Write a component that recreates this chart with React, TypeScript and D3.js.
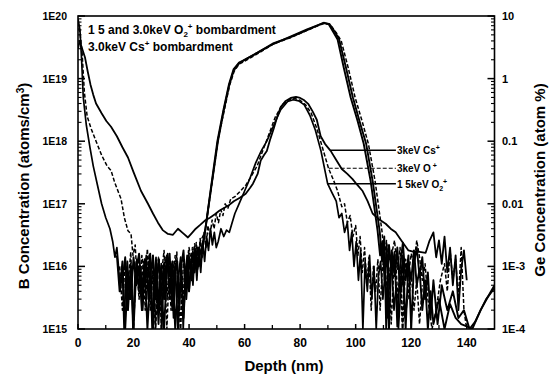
import React from 'react';
import * as d3 from 'd3';

const W = 549;
const H = 378;
const FRAME = { left: 78, right: 494.5, top: 16, bottom: 329 };
const FONT = '"Liberation Sans", Arial, Helvetica, sans-serif';

const DEPTH_DOMAIN = [0, 150];
const DEPTH_TICKS = [0, 20, 40, 60, 80, 100, 120, 140];
const DEPTH_MINOR = [10, 30, 50, 70, 90, 110, 130];
const B_DOMAIN = [1e15, 1e20];
const B_TICKS = [1e15, 1e16, 1e17, 1e18, 1e19, 1e20];
const B_TICK_LABELS = ['1E15', '1E16', '1E17', '1E18', '1E19', '1E20'];
const GE_DOMAIN = [1e-4, 10];
const GE_TICKS = [1e-4, 1e-3, 1e-2, 1e-1, 1, 10];
const GE_TICK_LABELS = ['1E-4', '1E-3', '0.01', '0.1', '1', '10'];

// Boron profiles, atoms/cm3 vs depth (nm)
const B_CS: [number, number][] = [[0,3e19],[0.6,4e19],[1.5,3e19],[2.5,2.2e19],[3.5,1.3e19],[4.5,8e18],[5.5,5.5e18],[6.5,4e18],[8.5,2.8e18],[10.2,2.1e18],[11.9,1.7e18],[14,1.2e18],[16,8e17],[18,5.5e17],[20,3.2e17],[22.7,1.6e17],[25.2,1e17],[27,7e16],[28.8,5e16],[30.5,3.8e16],[32.4,3.3e16],[34.2,3.2e16],[36,4e16],[37.8,3.4e16],[39.6,2.9e16],[41,3.4e16],[42.4,4e16],[44,4.6e16],[45.7,5.4e16],[47.5,6e16],[49.3,6.8e16],[51,7.8e16],[52.9,8.7e16],[54.5,9.6e16],[56.1,1.1e17],[58.3,1.25e17],[60.4,1.45e17],[62,1.8e17],[63,2.1e17],[64.7,3e17],[65.8,4.9e17],[67,6e17],[68,7e17],[69.3,1.1e18],[70.5,1.6e18],[71.8,2.5e18],[73,3.5e18],[74.8,4.4e18],[76.6,4.9e18],[78.5,5.1e18],[80,4.9e18],[81.5,4.5e18],[83,3.9e18],[84.5,3e18],[86,2.2e18],[87.4,1.2e18],[89,9e17],[91,7e17],[93,5e17],[95,3.6e17],[97,3e17],[98.8,2.5e17],[100.6,2e17],[102.5,1.6e17],[104.3,1.1e17],[106.1,7e16],[108.5,5.6e16],[110.8,4.8e16],[112.6,4e16],[114.4,3.5e16],[116.7,2.5e16],[119,1.8e16],[121,1.7e16],[123,1.7e16],[125.2,1.65e16],[126.5,2.5e16],[128,3.5e16],[129,1.4e16],[130,2.6e16],[131,1.1e16],[132,3e16],[133,8e15],[134,2e16],[135,5e15],[136,1.5e16],[137,2e15],[138,9e15],[139,1.8e16],[140,6e15]];

const B_O: [number, number][] = [[0,8e19],[0.8,5e19],[1.5,2.5e19],[2.3,6e18],[3.3,2.5e18],[4.7,1.6e18],[6.5,1e18],[8.5,6e17],[10.5,4e17],[11.9,3.4e17],[13.2,2.2e17],[14.4,1.6e17],[15.5,1.2e17],[16.7,6e16],[18,3.7e16],[19.1,3.3e16],[19.8,1.5e16],[20.6,2.2e16],[21.3,6e15],[22,1.5e16],[22.8,4e15],[23.5,1.2e16],[24.2,2e15],[25,9e15],[25.7,1.6e16],[26.4,3e15],[27.1,1e16],[27.8,1e15],[28.5,7e15],[29.2,1.3e16],[30,1e15],[30.7,6e15],[31.4,1.4e16],[32.1,3e15],[32.8,1e16],[33.5,2e15],[34.2,1.2e16],[34.9,5e15],[35.6,1.7e16],[36.3,1e15],[37,9e15],[37.7,1.5e15],[38.4,1.1e16],[39.1,5e15],[39.8,1.8e16],[40.5,7e15],[41.2,2e16],[41.9,9e15],[42.6,2.4e16],[43.3,1e16],[44,2.8e16],[44.7,1.4e16],[45.4,3.5e16],[46.1,2e16],[46.8,4.5e16],[47.5,3e16],[48.3,5.5e16],[49,4e16],[49.8,7e16],[50.6,5e16],[51.4,8e16],[52.2,6.5e16],[53,1e17],[54,8.5e16],[55,1.2e17],[56.5,1.3e17],[58.5,1.6e17],[60.5,2e17],[62.5,2.8e17],[64.5,4e17],[66.5,7e17],[68.5,1.2e18],[71,2.4e18],[73.5,3.8e18],[76,4.6e18],[78,4.8e18],[80,4.5e18],[82,3.8e18],[84,2.8e18],[86,1.6e18],[88,8e17],[90.3,3.6e17],[92,2.4e17],[93.5,1.6e17],[95,9e16],[96,1e17],[97,5e16],[98,6.5e16],[99,3e16],[100,4.5e16],[100.8,1.5e16],[101.6,3e16],[102.4,8e15],[103.2,2e16],[104,5e15],[104.8,1.4e16],[105.6,2e15],[106.4,1e16],[107.2,4e15],[108,1.3e16],[108.8,2e15],[109.6,9e15],[110.4,1.5e16],[111.2,4e15],[112,1e16],[112.8,1.2e15],[113.6,7e15],[114.4,1.3e16],[115.2,3e15],[116,9e15],[116.8,1e15],[117.6,6e15],[118.4,1.1e16],[119.2,3e15],[120,8e15],[121,2e15],[122,6e15],[123,1.2e15],[124,5e15]];

const B_O2: [number, number][] = [[0,9e19],[0.7,6e19],[1.3,2e19],[1.9,5e18],[3,1.8e18],[4.3,8e17],[5.5,4e17],[7,2e17],[8.5,1e17],[10,6e16],[11.5,4e16],[12.5,2.5e16],[13.3,1.4e16],[14,2e16],[14.5,1.1e16],[15.2,4e15],[16,9e15],[16.6,1e15],[17.2,6e15],[17.8,1.2e16],[18.5,3e15],[19.2,8e15],[19.8,1e15],[20.5,7e15],[21.2,1.3e16],[21.9,4e15],[22.6,1e16],[23.3,2e15],[24,8e15],[24.6,1.5e16],[25.3,3e15],[26,1e16],[26.7,1e15],[27.4,6e15],[28.1,1.4e16],[28.8,2e15],[29.5,9e15],[30.2,1e15],[30.9,1.1e16],[31.6,4e15],[32.3,1.6e16],[33,3e15],[33.7,1e16],[34.4,1.5e15],[35.1,8e15],[35.8,1.2e16],[36.5,2e15],[37.2,1e16],[37.9,1e15],[38.6,7e15],[39.3,1.5e16],[40,4e15],[40.7,1.2e16],[41.4,5e15],[42.1,1.8e16],[42.8,6e15],[43.5,2e16],[44.2,8e15],[44.9,2.5e16],[45.6,1.2e16],[46.3,3e16],[47,1.8e16],[47.7,4e16],[48.4,2.2e16],[49.1,3.5e16],[49.8,2e16],[50.5,2.5e16],[51.5,4e16],[52.5,3e16],[53.5,3.8e16],[54.5,3.5e16],[55.5,5e16],[56.5,7e16],[58,1e17],[60,1.6e17],[62,2.6e17],[64,4.5e17],[66,7e17],[68,1e18],[70.5,1.8e18],[73,3.2e18],[75.5,4.3e18],[77.5,4.6e18],[79.5,4.4e18],[81.5,3.8e18],[83.5,2.6e18],[85.5,1.5e18],[87.5,7e17],[89.9,2.1e17],[91.5,1.5e17],[93,1.1e17],[94,6e16],[95,7e16],[96,3.5e16],[97,5e16],[97.8,1.8e16],[98.6,3.5e16],[99.4,1e16],[100.2,2.5e16],[101,6e15],[101.8,1.8e16],[102.6,1e15],[103.4,1.2e16],[104.2,4e15],[105,1.5e16],[105.8,3e15],[106.6,1e16],[107.4,1e15],[108.2,7e15],[109,1.2e16],[109.8,3e15],[110.6,8e15],[111.4,1.5e15],[112.2,6e15],[113,1e16],[113.8,2e15],[114.6,5e15],[115.4,1e15],[116.2,4e15],[117,7e15],[117.8,1.5e15],[118.6,3e15]];

// Germanium profiles, atom % vs depth (nm)
const GE_CS: [number, number][] = [[16,6e-4],[17,1.4e-3],[18,2e-4],[19,1.1e-3],[20,1e-4],[21,9e-4],[22,1.6e-3],[23,4e-4],[24,1.2e-3],[25,1e-4],[26,7e-4],[27,1.5e-3],[28,3e-4],[29,1.3e-3],[30,5e-4],[31,1e-4],[32,8e-4],[33,1.6e-3],[34,2e-4],[35,1.1e-3],[36,1e-4],[37,9e-4],[38,1.8e-3],[39,3e-4],[40,1.4e-3],[41,6e-4],[42,2e-3],[43,9e-4],[44,1.6e-3],[45.5,3e-3],[47.8,1.7e-2],[50.2,0.1],[52.4,0.32],[54.4,0.82],[56,1.4],[58,1.8],[60,2.0],[65,2.65],[70.5,3.6],[76.5,4.7],[82.5,6.1],[88.3,7.7],[90.5,7.5],[92.5,5.6],[94,4.3],[96.5,1.5],[99,0.5],[101.5,0.2],[103.8,0.09],[106.2,0.022],[108.7,3.5e-3],[109.5,1.2e-3],[110.3,3e-3],[111,1e-4],[112,2.2e-3],[113,8e-4],[114,1.7e-3],[115,1.1e-4],[116,1e-3],[117,2.4e-3],[118,6e-4],[119,1.5e-3],[120,1e-4],[121,1.1e-3],[122,2e-3],[123,7e-4],[124,1.4e-3],[125,3e-4],[126,8e-4],[127,1.5e-4],[128,6e-4],[129.5,1.2e-4],[131,5e-4],[133,2e-4],[135,4e-4],[137,1.5e-4],[139,2e-4],[141,1e-4],[143,1.3e-4],[145,2e-4],[147,3e-4],[150,4.5e-4]];

const GE_O: [number, number][] = [[15,1e-3],[16,2e-4],[17,1.3e-3],[18,5e-4],[19,1.7e-3],[20,1e-4],[21,1.2e-3],[22,3e-4],[23,1.5e-3],[24,6e-4],[25,1.9e-3],[26,2e-4],[27,1.1e-3],[28,1e-4],[29,1.4e-3],[30,7e-4],[31,1.8e-3],[32,1e-4],[33,1.2e-3],[34,4e-4],[35,1.5e-3],[36,8e-4],[37,1e-4],[38,1.3e-3],[39,5e-4],[40,2e-3],[41,1e-3],[42,2.3e-3],[43,1.2e-3],[44,2.5e-3],[45.7,3.5e-3],[48,1.8e-2],[50.5,0.11],[52.6,0.3],[54.6,0.78],[56.2,1.3],[58,1.7],[60,1.9],[65,2.55],[70.5,3.6],[76.5,4.5],[82.5,5.9],[88.5,7.6],[90.8,7.3],[93,5.4],[94.8,4.0],[97.3,1.5],[99.8,0.5],[102.3,0.21],[104.6,0.09],[107,0.023],[109.5,3.6e-3],[110.3,1.4e-3],[111.1,2.6e-3],[112,5e-4],[113,1.6e-3],[114,2.6e-3],[115,9e-4],[116,2e-3],[117,1e-4],[118,1.3e-3],[119,7e-4],[120,1.6e-3],[121,1.1e-3],[122,2.6e-3],[123,1.4e-3],[124,6e-4],[125,1.1e-3],[126,3e-4],[127.5,1e-4],[129,2e-4],[130.5,6e-4],[132,1.1e-3],[133,4e-4],[134,1.8e-3],[135,6e-4],[136,1.3e-3],[137,3e-4],[138,2e-3],[139,2e-4],[140,1e-4]];

const GE_O2: [number, number][] = [[14,1.5e-3],[15,4e-4],[16,1.2e-3],[17,1e-4],[18,8e-4],[19,3e-4],[20,1.4e-3],[21,5e-4],[22,1e-3],[23,2e-4],[24,1.3e-3],[25,6e-4],[26,1.6e-3],[27,1e-4],[28,9e-4],[29,1.2e-4],[30,1.1e-3],[31,3e-4],[32,1.5e-3],[33,7e-4],[34,1.2e-3],[35,1e-4],[36,6e-4],[37,1.4e-3],[38,1.5e-4],[39,1e-3],[40,4e-4],[41,1.6e-3],[42,8e-4],[43,2e-3],[44,1e-3],[45.3,2.6e-3],[47.8,1.6e-2],[50.4,0.1],[52.5,0.31],[54.5,0.8],[56.1,1.35],[58,1.75],[59.7,1.95],[64.7,2.6],[70.5,3.7],[76.6,4.6],[82.7,6.0],[88.5,7.8],[90.3,7.4],[92.1,5.4],[93.5,4.2],[95.7,1.5],[98.2,0.5],[100.7,0.21],[102.9,0.091],[105.4,0.023],[107.9,3.7e-3],[108.8,1.5e-3],[109.6,2.5e-3],[110.4,6e-4],[111.2,2.2e-3],[112,1e-4],[113,1.8e-3],[114,7e-4],[115,2e-3],[116,4e-4],[117,1.5e-3],[118,1e-4],[119,1.2e-3],[120,6e-4],[121,1.8e-3],[122,5e-4],[123,9e-4],[124,2e-4],[125,6e-4],[126,1e-4],[127,4e-4],[128,1.2e-4],[130,3e-4],[132,1e-4],[134,2.5e-4],[136,1.5e-4],[138,1.2e-4],[140,1.1e-4],[142,1e-4],[145,2e-4],[148,3.5e-4],[150,5e-4]];

// Label leaders: [start depth, end depth, B concentration]
const LEADER_CS = [91, 114.5, 7.2e17];
const LEADER_O = [90.3, 114.5, 3.7e17];
const LEADER_O2 = [89.8, 114.5, 2.1e17];

export default function App() {
  const x = d3.scaleLinear().domain(DEPTH_DOMAIN).range([FRAME.left, FRAME.right]);
  const yB = d3.scaleLog().domain(B_DOMAIN).range([FRAME.bottom, FRAME.top]);
  const yG = d3.scaleLog().domain(GE_DOMAIN).range([FRAME.bottom, FRAME.top]);

  const lineB = d3.line<[number, number]>().x(d => x(d[0])).y(d => yB(Math.max(d[1], 5e14)));
  const lineG = d3.line<[number, number]>().x(d => x(d[0])).y(d => yG(Math.max(d[1], 5e-5)));

  const minorB: number[] = [];
  for (let e = 15; e < 20; e++) for (let m = 2; m <= 9; m++) minorB.push(m * Math.pow(10, e));
  const minorG: number[] = [];
  for (let e = -4; e < 1; e++) for (let m = 2; m <= 9; m++) minorG.push(m * Math.pow(10, e));

  const bold = { fontFamily: FONT, fontWeight: 700 as const, fill: '#000' };

  return (
    <svg width={W} height={H} style={{ position: 'absolute', left: 0, top: 0, background: '#fff' }}>
      <rect x={0} y={0} width={W} height={H} fill="#fff" />
      <defs>
        <clipPath id="plot">
          <rect x={FRAME.left} y={FRAME.top} width={FRAME.right - FRAME.left} height={FRAME.bottom - FRAME.top} />
        </clipPath>
      </defs>

      <g clipPath="url(#plot)" fill="none" stroke="#000" strokeLinejoin="round">
        <path d={lineB(B_CS) || ''} strokeWidth={1.8} />
        <path d={lineB(B_O) || ''} strokeWidth={1.5} strokeDasharray="4,2" />
        <path d={lineB(B_O2) || ''} strokeWidth={1.7} />
        <path d={lineG(GE_CS) || ''} strokeWidth={1.9} />
        <path d={lineG(GE_O) || ''} strokeWidth={1.5} strokeDasharray="4,2" />
        <path d={lineG(GE_O2) || ''} strokeWidth={1.9} />
      </g>

      {/* frame */}
      <rect x={FRAME.left} y={FRAME.top} width={FRAME.right - FRAME.left} height={FRAME.bottom - FRAME.top}
        fill="none" stroke="#000" strokeWidth={1.6} />

      {/* left axis ticks */}
      {B_TICKS.map(v => (
        <line key={'bt' + v} x1={FRAME.left} x2={FRAME.left + 7} y1={yB(v)} y2={yB(v)} stroke="#000" strokeWidth={1.5} />
      ))}
      {minorB.map(v => (
        <line key={'bm' + v} x1={FRAME.left} x2={FRAME.left + 3.5} y1={yB(v)} y2={yB(v)} stroke="#000" strokeWidth={1.1} />
      ))}
      {B_TICKS.map((v, i) => (
        <text key={'bl' + v} x={67} y={yB(v) + 4} textAnchor="end" fontSize={10.5} {...bold}>{B_TICK_LABELS[i]}</text>
      ))}

      {/* right axis ticks */}
      {GE_TICKS.map(v => (
        <line key={'gt' + v} x1={FRAME.right} x2={FRAME.right - 7} y1={yG(v)} y2={yG(v)} stroke="#000" strokeWidth={1.5} />
      ))}
      {minorG.map(v => (
        <line key={'gm' + v} x1={FRAME.right} x2={FRAME.right - 3.5} y1={yG(v)} y2={yG(v)} stroke="#000" strokeWidth={1.1} />
      ))}
      {GE_TICKS.map((v, i) => (
        <text key={'gl' + v} x={502} y={yG(v) + 4} textAnchor="start" fontSize={11} {...bold}>{GE_TICK_LABELS[i]}</text>
      ))}

      {/* bottom ticks */}
      {DEPTH_TICKS.map(v => (
        <line key={'xt' + v} x1={x(v)} x2={x(v)} y1={FRAME.bottom} y2={FRAME.bottom - 5} stroke="#000" strokeWidth={1.5} />
      ))}
      {DEPTH_MINOR.map(v => (
        <line key={'xm' + v} x1={x(v)} x2={x(v)} y1={FRAME.bottom} y2={FRAME.bottom - 4} stroke="#000" strokeWidth={1.3} />
      ))}
      {DEPTH_TICKS.map(v => (
        <text key={'xl' + v} x={x(v)} y={347} textAnchor="middle" fontSize={12} {...bold}>{v}</text>
      ))}

      {/* axis titles */}
      <text x={284} y={371} textAnchor="middle" fontSize={15} {...bold}>Depth (nm)</text>
      <text transform="translate(29,186) rotate(-90)" textAnchor="middle" fontSize={15} {...bold}>
        B Concentration (atoms/cm<tspan dy={-5} fontSize={10}>3</tspan><tspan dy={5}>)</tspan>
      </text>
      <text transform="translate(545,180) rotate(-90)" textAnchor="middle" fontSize={15} {...bold}>Ge Concentration (atom %)</text>

      {/* in-plot legend text */}
      <text x={88} y={34} fontSize={12} {...bold}>
        1 5 and 3.0keV O<tspan dy={3} fontSize={8}>2</tspan><tspan dy={-8} fontSize={8}>+</tspan><tspan dy={5}> bombardment</tspan>
      </text>
      <text x={88} y={51} fontSize={12} {...bold}>
        3.0keV Cs<tspan dy={-5} fontSize={8}>+</tspan><tspan dy={5}> bombardment</tspan>
      </text>

      {/* series labels with leaders */}
      <line x1={x(LEADER_CS[0])} x2={x(LEADER_CS[1])} y1={yB(LEADER_CS[2])} y2={yB(LEADER_CS[2])} stroke="#000" strokeWidth={1.5} />
      <line x1={x(LEADER_O[0])} x2={x(LEADER_O[1])} y1={yB(LEADER_O[2])} y2={yB(LEADER_O[2])} stroke="#000" strokeWidth={1.2} strokeDasharray="4,2" />
      <line x1={x(LEADER_O2[0])} x2={x(LEADER_O2[1])} y1={yB(LEADER_O2[2])} y2={yB(LEADER_O2[2])} stroke="#000" strokeWidth={1.5} />
      <text x={x(LEADER_CS[1]) + 1} y={yB(LEADER_CS[2]) + 4} fontSize={10} {...bold}>
        3keV Cs<tspan dy={-4} fontSize={7}>+</tspan>
      </text>
      <text x={x(LEADER_O[1]) + 1} y={yB(LEADER_O[2]) + 4} fontSize={10} {...bold}>
        3keV O<tspan dy={-4} fontSize={7}> +</tspan>
      </text>
      <text x={x(LEADER_O2[1]) + 1} y={yB(LEADER_O2[2]) + 4} fontSize={10} {...bold}>
        1 5keV O<tspan dy={3} fontSize={7}>2</tspan><tspan dy={-7} fontSize={7}>+</tspan>
      </text>
    </svg>
  );
}
